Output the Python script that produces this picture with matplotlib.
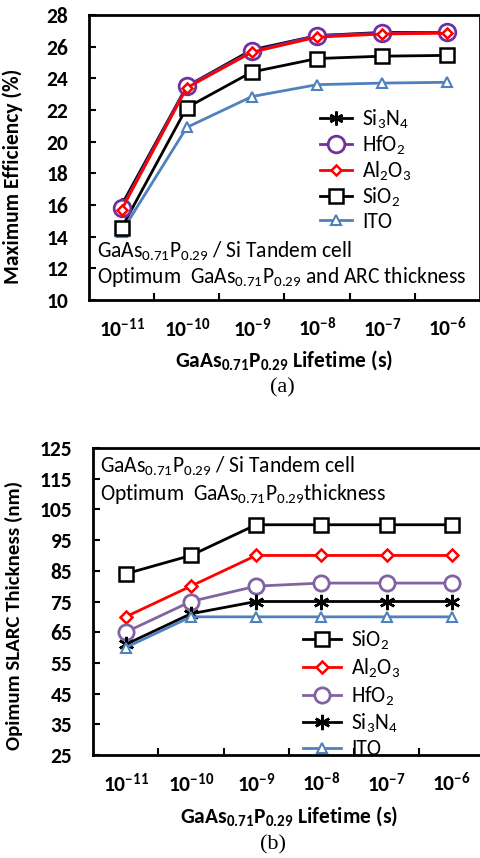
import matplotlib
matplotlib.use("Agg")
import matplotlib.pyplot as plt

plt.rcParams['font.family'] = ['Carlito', 'DejaVu Sans']
plt.rcParams['mathtext.fontset'] = 'custom'
plt.rcParams['mathtext.rm'] = 'Carlito'
plt.rcParams['mathtext.it'] = 'Carlito:italic'
plt.rcParams['mathtext.bf'] = 'Carlito:bold'

# lifetimes (categorical x axis)
lifetimes = ['11', '10', '9', '8', '7', '6']
xt_labels = [r'$\mathbf{10^{-%s}}$' % e for e in lifetimes]

# (a) maximum efficiency (%)
eff_si3n4 = [16.0, 23.5, 25.8, 26.7, 26.9, 26.9]
eff_hfo2 = [15.8, 23.5, 25.7, 26.7, 26.85, 26.9]
eff_al2o3 = [15.7, 23.4, 25.65, 26.6, 26.8, 26.85]
eff_sio2 = [14.55, 22.15, 24.4, 25.25, 25.4, 25.45]
eff_ito = [14.3, 20.9, 22.85, 23.6, 23.7, 23.75]
eff_ticks = list(range(10, 29, 2))

# (b) optimum SLARC thickness (nm)
thk_sio2 = [84, 90, 100, 100, 100, 100]
thk_al2o3 = [70, 80, 90, 90, 90, 90]
thk_hfo2 = [65, 75, 80, 81, 81, 81]
thk_si3n4 = [61, 71, 75, 75, 75, 75]
thk_ito = [60, 70, 70, 70, 70, 70]
thk_ticks = list(range(25, 126, 10))

lab_si3n4 = r'Si$_3$N$_4$'
lab_hfo2 = r'HfO$_2$'
lab_al2o3 = r'Al$_2$O$_3$'
lab_sio2 = r'SiO$_2$'
lab_ito = 'ITO'

STAR = (6, 2, 0)
FS = 15.5   # ticks / axis labels
FT = 15.5   # annotation / legend text

fig = plt.figure(figsize=(4.8, 8.58), dpi=100)
W, H = 480, 858
ax1 = fig.add_axes([89 / W, (H - 300) / H, 391 / W, 285 / H])
ax2 = fig.add_axes([93 / W, (H - 755) / H, 391.5 / W, 307 / H])

x = list(range(len(lifetimes)))


def style(ax, yticks):
    for s in ax.spines.values():
        s.set_linewidth(2)
    ax.set_xlim(-0.5, 5.5)
    ax.set_xticks(x)
    ax.set_xticklabels(xt_labels)
    ax.set_xticks([i + 0.5 for i in x[:-1]], minor=True)
    ax.set_yticks(yticks)
    ax.tick_params(axis='x', which='major', length=0, pad=12, labelsize=FS)
    ax.tick_params(axis='x', which='minor', direction='in', length=5, width=1.5)
    ax.tick_params(axis='y', direction='in', length=5, width=1.5, pad=15, labelsize=FS)


# ---- (a)
h_si = ax1.plot(x, eff_si3n4, color='k', lw=2, marker=STAR, ms=10, mew=1.8, label=lab_si3n4)[0]
h_hf = ax1.plot(x, eff_hfo2, color='#7030A0', lw=2, marker='o', ms=12, mfc='white', mew=2, label=lab_hfo2)[0]
h_al = ax1.plot(x, eff_al2o3, color='red', lw=2, marker='D', ms=5.5, mfc='white', mew=1.8, label=lab_al2o3)[0]
h_so = ax1.plot(x, eff_sio2, color='k', lw=2, marker='s', ms=10, mfc='white', mew=1.8, label=lab_sio2)[0]
h_it = ax1.plot(x, eff_ito, color='#4F81BD', lw=2, marker='^', ms=7, mfc='white', mew=1.5, label=lab_ito)[0]
h_so.set_zorder(1.5)
h_it.set_zorder(1.4)
ax1.set_ylim(10, 28)
style(ax1, eff_ticks)
ax1.set_xlabel(r'$\mathbf{GaAs_{0.71}P_{0.29}}$ Lifetime (s)', fontsize=FS, fontweight='bold')
ax1.set_ylabel('Maximum Efficiency (%)', fontsize=FS, fontweight='bold')
ax1.yaxis.set_label_coords(-0.17, 0.435)
ax1.xaxis.set_label_coords(0.5, -0.17)
ax1.legend(handles=[h_si, h_hf, h_al, h_so, h_it], loc='upper left',
           bbox_to_anchor=(320 / W, (H - 108) / H), bbox_transform=fig.transFigure,
           frameon=False, prop={'size': FT, 'weight': 'normal'}, handlelength=1.5,
           handletextpad=0.45, labelspacing=0.12, borderpad=0, borderaxespad=0)
ax1.text(0.02, 0.147, r'GaAs$_{0.71}$P$_{0.29}$ / Si Tandem cell', transform=ax1.transAxes,
         fontsize=FT, va='baseline')
ax1.text(0.02, 0.06, r'Optimum  GaAs$_{0.71}$P$_{0.29}$ and ARC thickness', transform=ax1.transAxes,
         fontsize=FT, va='baseline')
fig.text(282 / W, 1 - 388 / H, '(a)', family='Liberation Serif', fontsize=16, ha='center', va='center')

# ---- (b)
g_so = ax2.plot(x, thk_sio2, color='k', lw=2, marker='s', ms=10, mfc='white', mew=1.8, label=lab_sio2)[0]
g_al = ax2.plot(x, thk_al2o3, color='red', lw=2, marker='D', ms=6.5, mfc='white', mew=1.8, label=lab_al2o3)[0]
g_hf = ax2.plot(x, thk_hfo2, color='#8064A2', lw=2, marker='o', ms=11, mfc='white', mew=2, label=lab_hfo2)[0]
g_si = ax2.plot(x, thk_si3n4, color='k', lw=2, marker=STAR, ms=11, mew=1.8, label=lab_si3n4)[0]
g_it = ax2.plot(x, thk_ito, color='#4F81BD', lw=2, marker='^', ms=7, mfc='white', mew=1.5, label=lab_ito)[0]
ax2.set_ylim(25, 125)
style(ax2, thk_ticks)
ax2.set_xlabel(r'$\mathbf{GaAs_{0.71}P_{0.29}}$ Lifetime (s)', fontsize=FS, fontweight='bold')
ax2.set_ylabel('Opimum SLARC Thickness (nm)', fontsize=15, fontweight='bold')
ax2.yaxis.set_label_coords(-0.178, 0.456)
ax2.xaxis.set_label_coords(0.5, -0.16)
ax2.legend(handles=[g_so, g_al, g_hf, g_si, g_it], loc='upper left',
           bbox_to_anchor=(303 / W, (H - 629) / H), bbox_transform=fig.transFigure,
           frameon=False, prop={'size': FT, 'weight': 'normal'}, handlelength=1.75,
           handletextpad=0.5, labelspacing=0.2, borderpad=0, borderaxespad=0)
ax2.text(0.018, 0.918, r'GaAs$_{0.71}$P$_{0.29}$ / Si Tandem cell', transform=ax2.transAxes,
         fontsize=FT, va='baseline')
ax2.text(0.018, 0.83, r'Optimum  GaAs$_{0.71}$P$_{0.29}$thickness', transform=ax2.transAxes,
         fontsize=FT, va='baseline')
fig.text(273 / W, 1 - 845 / H, '(b)', family='Liberation Serif', fontsize=16, ha='center', va='center')

for ax in (ax1, ax2):
    for t in ax.get_yticklabels():
        t.set_fontweight('bold')

fig.savefig('out.png', dpi=100)
